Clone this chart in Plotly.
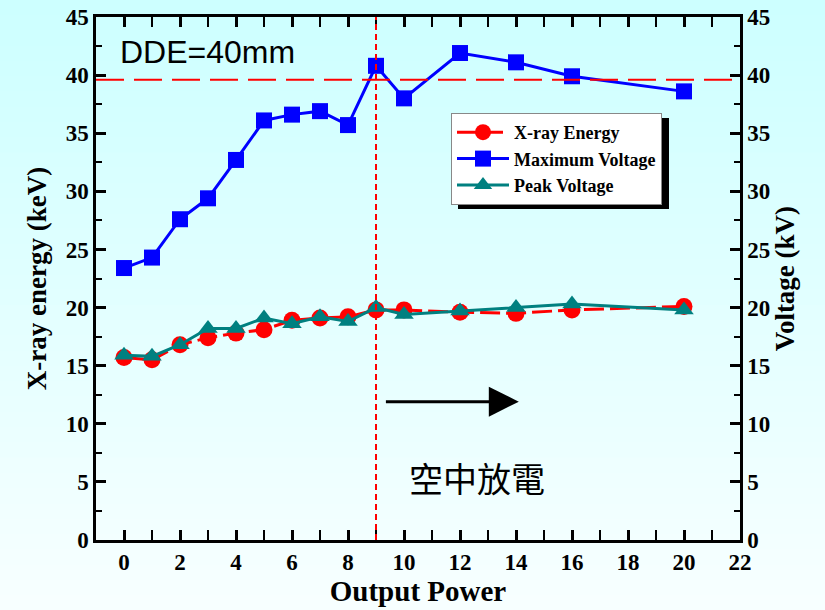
import plotly.graph_objects as go

# ---- data ----
power = [0, 1, 2, 3, 4, 5, 6, 7, 8, 9, 10, 12, 14, 16, 20]
xray_energy = [15.7, 15.5, 16.8, 17.4, 17.8, 18.1, 18.9, 19.1, 19.2, 19.8, 19.8, 19.6, 19.5, 19.8, 20.1]
max_voltage = [23.4, 24.3, 27.6, 29.4, 32.7, 36.1, 36.6, 36.9, 35.7, 40.8, 38.0, 41.9, 41.1, 39.9, 38.6]
peak_voltage = [15.9, 15.8, 16.8, 18.2, 18.2, 19.1, 18.6, 19.2, 18.8, 20.0, 19.4, 19.7, 20.0, 20.3, 19.8]

x_ticks = list(range(0, 23, 2))
y_ticks = list(range(0, 46, 5))
ref_level = 39.6      # horizontal dashed reference line (kV)
ref_power = 9         # vertical dotted line
arrow_from = (9.3, 11.9)
arrow_to = (14.1, 11.9)

TIMES = "Liberation Serif"

fig = go.Figure()

fig.add_trace(go.Scatter(
    x=power, y=xray_energy, name="X-ray Energy", mode="lines+markers",
    line=dict(color="#ff0000", width=3, dash="20px,6px"),
    marker=dict(symbol="circle", size=17, color="#ff0000"),
))
fig.add_trace(go.Scatter(
    x=power, y=max_voltage, name="Maximum Voltage", mode="lines+markers", yaxis="y2",
    line=dict(color="#0000ff", width=3),
    marker=dict(symbol="square", size=16, color="#0000ff"),
))
fig.add_trace(go.Scatter(
    x=power, y=peak_voltage, name="Peak Voltage", mode="lines+markers", yaxis="y2",
    line=dict(color="#008080", width=3),
    marker=dict(symbol="triangle-up", size=17, color="#008080"),
))

shapes = []
L, R, T, B = 96, 740, 17, 540
W, H = 825, 610
def px2paper_x(px):
    return (px - L) / (R - L)
def px2paper_y(py):
    return (B - py) / (B - T)
n = 40
top_c = (204, 255, 255)
bot_c = (248, 255, 255)
for i in range(n):
    y0 = H * i / n
    y1 = H * (i + 1) / n + 1
    f = (i + 0.5) / n
    c = tuple(round(top_c[k] + (bot_c[k] - top_c[k]) * f) for k in range(3))
    shapes.append(dict(type="rect", xref="paper", yref="paper", layer="below",
                       x0=px2paper_x(0), x1=px2paper_x(W),
                       y0=px2paper_y(y1), y1=px2paper_y(y0),
                       line=dict(width=0), fillcolor="rgb(%d,%d,%d)" % c))

# reference lines
shapes.append(dict(type="line", xref="paper", yref="y", x0=0, x1=1, y0=ref_level, y1=ref_level,
                   line=dict(color="#ff0000", width=2, dash="28px,10px")))
shapes.append(dict(type="line", xref="x", yref="paper", x0=ref_power, x1=ref_power, y0=0, y1=1,
                   line=dict(color="#ff0000", width=2, dash="6px,4px")))

# legend shadow
lg_l, lg_t, lg_r, lg_b = 451, 113, 662, 204
shapes.append(dict(type="rect", xref="paper", yref="paper", layer="below",
                   x0=px2paper_x(lg_l + 7), x1=px2paper_x(lg_r + 7),
                   y0=px2paper_y(lg_b + 5), y1=px2paper_y(lg_t + 5),
                   line=dict(width=0), fillcolor="black"))

annotations = [
    dict(x=arrow_to[0], y=arrow_to[1], ax=arrow_from[0], ay=arrow_from[1],
         xref="x", yref="y", axref="x", ayref="y", text="", showarrow=True,
         arrowhead=2, arrowsize=2, arrowwidth=3, arrowcolor="black"),
    dict(x=-0.2, y=40.3, xref="x", yref="y", xanchor="left", yanchor="bottom",
         text="DDE=40mm", showarrow=False,
         font=dict(family="Liberation Sans", size=32, color="black")),
    dict(x=12.6, y=5.4, xref="x", yref="y", xanchor="center", yanchor="middle",
         text="空中放電", showarrow=False,
         font=dict(family="Noto Sans CJK TC", size=34, color="black")),
]

tickfont = dict(family=TIMES, size=23, color="black", weight="bold")
axis_common = dict(showgrid=False, zeroline=False, linecolor="black", linewidth=2.5,
                   ticks="inside", tickcolor="black", tickwidth=2.5, ticklen=10,
                   tickfont=tickfont, automargin=False)
minor_common = dict(ticks="inside", ticklen=6, tickwidth=2, tickcolor="black")

fig.update_layout(
    width=W, height=H,
    margin=dict(l=L, r=W - R, t=T, b=H - B, autoexpand=False),
    paper_bgcolor="rgba(0,0,0,0)",
    plot_bgcolor="rgba(0,0,0,0)",
    showlegend=True,
    legend=dict(x=px2paper_x(lg_l), y=px2paper_y(lg_t), xanchor="left", yanchor="top",
                bgcolor="white", bordercolor="#888888", borderwidth=1,
                font=dict(family=TIMES, size=18, color="black", weight="bold"),
                itemwidth=52, tracegroupgap=0),
    xaxis=dict(range=[-1, 22], tickvals=x_ticks, mirror="allticks",
               minor=dict(dtick=1, tick0=0, **minor_common),
               title=dict(text="Output Power", font=dict(family=TIMES, size=29, color="black", weight="bold"), standoff=2),
               **axis_common),
    yaxis=dict(range=[0, 45], tickvals=y_ticks, mirror=True,
               minor=dict(dtick=2.5, tick0=0, **minor_common),
               title=dict(text="X-ray energy (keV)", font=dict(family=TIMES, size=27, color="black", weight="bold"), standoff=12),
               **axis_common),
    yaxis2=dict(range=[0, 45], tickvals=y_ticks, overlaying="y", side="right",
                minor=dict(dtick=2.5, tick0=0, **minor_common),
                title=dict(text="Voltage (kV)", font=dict(family=TIMES, size=27, color="black", weight="bold"), standoff=6),
                **axis_common),
    shapes=shapes,
    annotations=annotations,
)

fig.write_html("out.html", config={"displayModeBar": False},
               post_script="document.body.style.margin='0';document.body.style.overflow='hidden';")
